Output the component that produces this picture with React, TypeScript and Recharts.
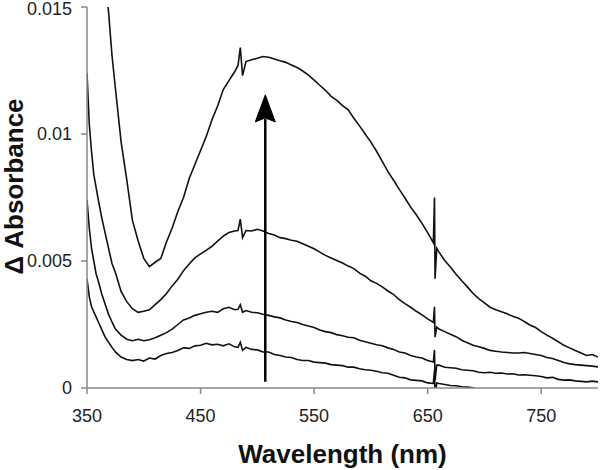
import React from 'react';
import { LineChart, Line, XAxis, YAxis, ReferenceLine, ReferenceDot } from 'recharts';

const wavelengths = [
  350, 352, 354, 356, 358, 360,
  363, 366, 369, 372,
  375, 380, 385, 390, 395, 400, 405, 410, 415, 420, 425, 430, 435, 440, 445, 450, 455, 460, 465, 470, 475, 480,
  483, 485, 487,
  490, 495, 500, 505, 510, 515, 520, 525, 530, 535, 540, 545, 550, 555, 560, 565, 570, 575, 580, 585, 590, 595, 600, 605, 610, 615, 620, 625, 630, 635, 640, 645, 650, 655,
  656, 656.5, 658,
  660, 665, 670, 675, 680, 685, 690, 695, 700, 705, 710, 715, 720, 725, 730, 735, 740, 745, 750, 755, 760, 765, 770, 775, 780, 785, 790, 795, 800,
];

const trace1 = [
  0.0235, 0.0226, 0.0216, 0.0207, 0.0197, 0.0188,
  0.0174, 0.0162, 0.0148, 0.0131,
  0.0118, 0.0097, 0.0082, 0.0066, 0.0058, 0.0051, 0.00478, 0.00495, 0.0051, 0.00575, 0.0063, 0.00695, 0.0075, 0.00825, 0.0088, 0.00935, 0.0099, 0.01055, 0.0111, 0.01175, 0.0121, 0.01245,
  0.0127, 0.0134, 0.0123,
  0.01285, 0.01292, 0.01298, 0.01305, 0.01302, 0.01295, 0.01288, 0.01282, 0.01272, 0.01262, 0.01248, 0.01232, 0.01212, 0.01192, 0.01172, 0.01148, 0.01132, 0.01112, 0.01095, 0.01062, 0.01032, 0.01, 0.00968, 0.00932, 0.00892, 0.00852, 0.00818, 0.00782, 0.00748, 0.00712, 0.00682, 0.00648, 0.00612, 0.00572,
  0.0075, 0.0043, 0.0055,
  0.00535, 0.00502, 0.00476, 0.00448, 0.00422, 0.00398, 0.00372, 0.00352, 0.00335, 0.00318, 0.00308, 0.003, 0.00292, 0.00282, 0.00275, 0.00262, 0.00248, 0.00238, 0.00222, 0.00208, 0.00196, 0.00182, 0.00168, 0.00158, 0.00148, 0.00138, 0.00128, 0.00132, 0.00122,
];

const trace2 = [
  0.0124, 0.0104, 0.0093, 0.0084, 0.0079, 0.0074,
  0.0067, 0.0061, 0.0055, 0.0049,
  0.00455, 0.0038, 0.0034, 0.00312, 0.00298, 0.00302, 0.00308, 0.00328, 0.00348, 0.00372, 0.00402, 0.00428, 0.00462, 0.00488, 0.00512, 0.00528, 0.00542, 0.00558, 0.00578, 0.00598, 0.00612, 0.00618,
  0.0062, 0.00665, 0.00592,
  0.0062, 0.00618, 0.00625, 0.00618, 0.00608, 0.00602, 0.00592, 0.00588, 0.00582, 0.00578, 0.00568, 0.00558, 0.00548, 0.00535, 0.00522, 0.00512, 0.00502, 0.00492, 0.0048, 0.0047, 0.00452, 0.0044, 0.00422, 0.00412, 0.00398, 0.00382, 0.00368, 0.00348, 0.00332, 0.00318, 0.00302, 0.00288, 0.00272, 0.00258,
  0.0032, 0.002, 0.0024,
  0.00232, 0.00222, 0.00212, 0.00202, 0.00188, 0.00178, 0.00168, 0.00162, 0.00156, 0.00148, 0.00145, 0.00142, 0.0014, 0.00138, 0.00138, 0.0014, 0.00136, 0.00132, 0.00128, 0.0012, 0.00116, 0.00108, 0.001, 0.00095, 0.00092, 0.0009, 0.00088, 0.00086, 0.00083,
];

const trace3 = [
  0.0074, 0.0063, 0.0055, 0.005, 0.0045, 0.0042,
  0.0037, 0.0033, 0.0029, 0.0026,
  0.00232, 0.00208, 0.00192, 0.00186, 0.00192, 0.00186, 0.0019, 0.00198, 0.00208, 0.00218, 0.00232, 0.0025, 0.00268, 0.00276, 0.00286, 0.00292, 0.00298, 0.00302, 0.00298, 0.00312, 0.00318, 0.00308,
  0.0031, 0.00328, 0.00298,
  0.00305, 0.00298, 0.00296, 0.0029, 0.00286, 0.0028, 0.00276, 0.00268, 0.00262, 0.00258, 0.0025, 0.00244, 0.00238, 0.00228, 0.00222, 0.00218, 0.0021, 0.00206, 0.002, 0.00198, 0.00188, 0.00182, 0.00176, 0.0017, 0.00166, 0.00158, 0.00152, 0.00142, 0.00138, 0.00128, 0.00122, 0.00118, 0.00108, 0.00102,
  0.0015, 0.0003, 0.0009,
  0.0009, 0.00082, 0.0008, 0.00078, 0.00072, 0.0007, 0.00068, 0.00062, 0.0006, 0.00062, 0.00058, 0.00059, 0.00055, 0.00056, 0.00051, 0.00052, 0.0005, 0.00048, 0.00045, 0.0004, 0.00042, 0.00034, 0.00031, 0.00032, 0.00028, 0.00026, 0.00024, 0.00027, 0.00024,
];

const trace4 = [
  0.0043, 0.0036, 0.0032, 0.003, 0.0028, 0.0026,
  0.0023, 0.002, 0.0018, 0.0016,
  0.00142, 0.00122, 0.00112, 0.00108, 0.00112, 0.00106, 0.00118, 0.00114, 0.00128, 0.00136, 0.0014, 0.00148, 0.00158, 0.00156, 0.00166, 0.00168, 0.00176, 0.0017, 0.00172, 0.00166, 0.00174, 0.00162,
  0.0016, 0.0018, 0.00148,
  0.0016, 0.00152, 0.0015, 0.00142, 0.00142, 0.00132, 0.00128, 0.00122, 0.0012, 0.00112, 0.00108, 0.00108, 0.00102, 0.001, 0.00098, 0.00092, 0.0009, 0.00088, 0.00082, 0.00082, 0.00076, 0.00072, 0.0007, 0.00066, 0.0006, 0.00058, 0.0005, 0.00042, 0.0004, 0.00032, 0.0003, 0.00028, 0.0002, 0.00018,
  0.0007, -0.0003, 0.0002,
  0.00018, 0.00014, 0.0001, 0.00009, 0.00005, 0.00004, 0.00001, -0.0001, -0.0001, -0.00012, -0.0001, -0.00012, -0.0001, -0.00012, -0.0001, -0.00012, -0.0001, -0.00012, -0.0001, -0.00012, -0.0001, -0.00012, -0.0001, -0.00012, -0.0001, -0.00012, -0.0001, -0.00012, -0.0001,
];

const xTicks = [350, 450, 550, 650, 750];
const yTicks = [0, 0.005, 0.01, 0.015];

const arrowX = 507;
const arrowBottom = 0.00025;
const arrowShaftTop = 0.0106;
const arrowTip = 0.01154;

const data = wavelengths.map((w, i) => ({
  w,
  a: trace1[i],
  b: trace2[i],
  c: trace3[i],
  d: trace4[i],
}));

const FONT = '"Liberation Sans", Arial, Helvetica, sans-serif';

const XTick = (props: any) => {
  const { x, y, payload } = props;
  return (
    <text x={x} y={y} dy="0.71em" textAnchor="middle" fontFamily={FONT} fontSize={18} fill="#222">
      {payload.value}
    </text>
  );
};

const YTick = (props: any) => {
  const { x, y, payload } = props;
  return (
    <text x={x} y={y} dy="0.355em" textAnchor="end" fontFamily={FONT} fontSize={18} fill="#222">
      {String(payload.value)}
    </text>
  );
};

const YLabel = (props: any) => {
  const vb = props.viewBox || { x: 0, y: 7, width: 87, height: 381 };
  const cx = vb.x + 14;
  const cy = vb.y + vb.height / 2 - 11;
  return (
    <text
      x={cx}
      y={cy}
      transform={`rotate(-90, ${cx}, ${cy})`}
      textAnchor="middle"
      dominantBaseline="central"
      fontFamily={FONT}
      fontSize={26}
      fontWeight="bold"
      fill="#111"
    >
      Δ Absorbance
    </text>
  );
};

const ArrowHead = (props: any) => {
  const { cx, cy } = props;
  if (cx == null || cy == null) return null;
  return (
    <path
      d={`M${cx},${cy} L${cx + 10},${cy + 27} L${cx},${cy + 23} L${cx - 10},${cy + 27} Z`}
      fill="#000"
      stroke="#000"
      strokeWidth={1}
    />
  );
};

export default function App() {
  const lineProps = {
    type: 'linear' as const,
    dot: false,
    stroke: '#111',
    strokeWidth: 1.6,
    isAnimationActive: false,
  };
  return (
    <div style={{ position: 'absolute', left: 0, top: 0, width: 600, height: 470, background: '#fff' }}>
      <LineChart width={600} height={470} data={data} margin={{ top: 7, right: 2, left: 0, bottom: 0 }}>
        <XAxis
          dataKey="w"
          type="number"
          domain={[350, 800]}
          ticks={xTicks}
          allowDataOverflow
          height={82}
          tickSize={6}
          tickMargin={15}
          stroke="#888"
          strokeWidth={1.5}
          tick={(p: any) => <XTick {...p} />}
          label={{
            value: 'Wavelength (nm)',
            position: 'insideBottom',
            offset: 7,
            fontSize: 26,
            fontWeight: 'bold',
            fill: '#111',
            fontFamily: FONT,
          }}
        />
        <YAxis
          type="number"
          domain={[0, 0.015]}
          ticks={yTicks}
          allowDataOverflow
          width={87}
          tickSize={6}
          tickMargin={9}
          stroke="#888"
          strokeWidth={1.5}
          tick={(p: any) => <YTick {...p} />}
          label={{ content: (p: any) => <YLabel {...p} /> }}
        />
        <Line dataKey="a" {...lineProps} />
        <Line dataKey="b" {...lineProps} />
        <Line dataKey="c" {...lineProps} />
        <Line dataKey="d" {...lineProps} />
        <ReferenceLine
          segment={[
            { x: arrowX, y: arrowBottom },
            { x: arrowX, y: arrowShaftTop },
          ]}
          stroke="#000"
          strokeWidth={2.5}
        />
        <ReferenceDot x={arrowX} y={arrowTip} r={1} shape={(p: any) => <ArrowHead {...p} />} />
      </LineChart>
    </div>
  );
}
